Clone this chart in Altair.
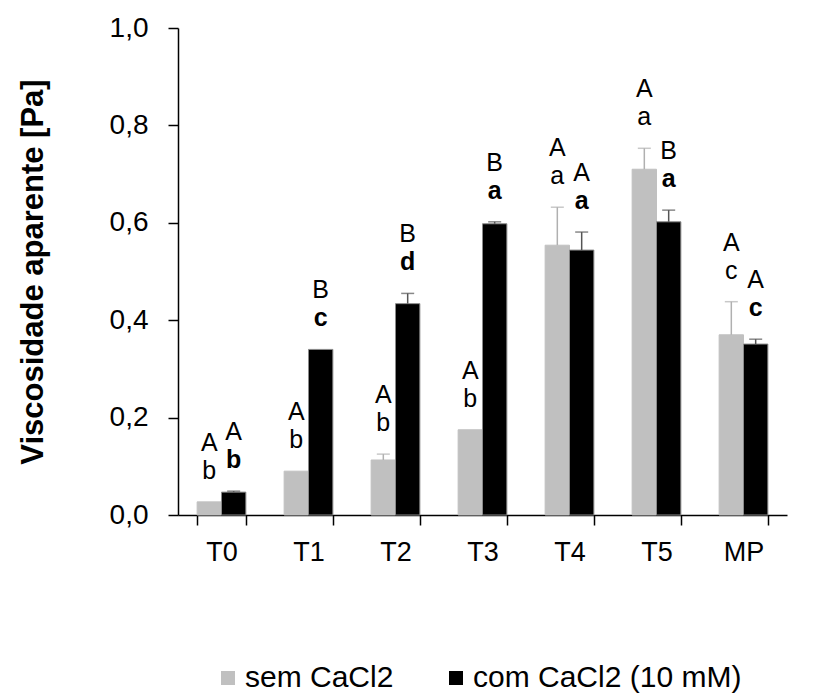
import altair as alt
import pandas as pd

categories = ["T0", "T1", "T2", "T3", "T4", "T5", "MP"]
series_names = ["sem CaCl2", "com CaCl2 (10 mM)"]

sem_values = [0.027, 0.090, 0.113, 0.175, 0.554, 0.710, 0.370]
sem_err = [0.0, 0.0, 0.012, 0.0, 0.078, 0.043, 0.068]
com_values = [0.047, 0.340, 0.434, 0.598, 0.544, 0.602, 0.351]
com_err = [0.002, 0.0, 0.021, 0.004, 0.037, 0.024, 0.010]

sem_upper = ["A", "A", "A", "A", "A", "A", "A"]
sem_lower = ["b", "b", "b", "b", "a", "a", "c"]
com_upper = ["A", "B", "B", "B", "A", "B", "A"]
com_lower = ["b", "c", "d", "a", "a", "a", "c"]

rows = []
for i, c in enumerate(categories):
    rows.append(dict(cat=c, serie=series_names[0], value=sem_values[i], err=sem_err[i],
                     upper=sem_upper[i], lower=sem_lower[i]))
    rows.append(dict(cat=c, serie=series_names[1], value=com_values[i], err=com_err[i],
                     upper=com_upper[i], lower=com_lower[i]))
df = pd.DataFrame(rows)
df["top"] = df["value"] + df["err"]

FONT = "Liberation Sans"

x_enc = alt.X(
    "cat:N", sort=categories,
    scale=alt.Scale(paddingInner=0.44, paddingOuter=0.22),
    axis=alt.Axis(title=None, labelAngle=0, labelFontSize=27, labelFont=FONT,
                  labelColor="black", tickBand="extent", tickSize=10,
                  tickColor="black", domainColor="black", labelPadding=14,
                  tickWidth=1.5, domainWidth=1.5),
)
xo_enc = alt.XOffset("serie:N", sort=series_names,
                     scale=alt.Scale(domain=series_names, paddingInner=0, paddingOuter=0))

y_axis = alt.Axis(
    title="Viscosidade aparente [Pa]",
    values=[0, 0.2, 0.4, 0.6, 0.8, 1.0],
    labelExpr="replace(format(datum.value, '.1f'), '.', ',')",
    tickSize=10, labelFontSize=28, labelFont=FONT, labelColor="black",
    labelPadding=20, titleFontSize=31, titleFont=FONT, titleFontWeight="bold",
    titleColor="black", titlePadding=60, grid=False, domainColor="black",
    tickColor="black", tickWidth=1.5, domainWidth=1.5,
)
y_scale = alt.Scale(domain=[0, 1], nice=False)

base = alt.Chart(df)

bars = base.mark_bar(strokeWidth=1).encode(
    x=x_enc, xOffset=xo_enc,
    y=alt.Y("value:Q", scale=y_scale, axis=y_axis),
    color=alt.Color("serie:N", sort=series_names,
                    scale=alt.Scale(domain=series_names, range=["#c0c0c0", "#000000"]),
                    legend=alt.Legend(title=None, orient="none", legendX=35, legendY=635,
                                      direction="horizontal", columns=2, columnPadding=47,
                                      labelFontSize=30, labelFont=FONT, labelColor="black",
                                      labelLimit=0,
                                      symbolType="square", symbolSize=196,
                                      symbolStrokeWidth=0, labelOffset=2, padding=0)),
    stroke=alt.condition(alt.datum.serie == series_names[1], alt.value("#8a8a8a"), alt.value("#c0c0c0")),
)

err_df = base.transform_filter("datum.err > 0")

err_rule = err_df.mark_rule(strokeWidth=1.5).encode(
    x=x_enc, xOffset=xo_enc,
    y=alt.Y("value:Q", scale=y_scale, axis=y_axis),
    y2="top:Q",
    color=alt.condition(alt.datum.serie == series_names[1], alt.value("#555555"), alt.value("#b0b0b0")),
)

err_cap = err_df.mark_tick(size=13, thickness=1.5).encode(
    x=x_enc, xOffset=xo_enc,
    y=alt.Y("top:Q", scale=y_scale, axis=y_axis),
    color=alt.condition(alt.datum.serie == series_names[1], alt.value("#555555"), alt.value("#b0b0b0")),
)

upper_text = base.mark_text(font=FONT, fontSize=25, baseline="middle", dy=-59, color="black").encode(
    x=x_enc, xOffset=xo_enc,
    y=alt.Y("top:Q", scale=y_scale, axis=y_axis),
    text="upper:N",
)

lower_sem_text = base.transform_filter(alt.datum.serie == series_names[0]).mark_text(
    font=FONT, fontSize=25, baseline="middle", dy=-31, color="black").encode(
    x=x_enc, xOffset=xo_enc,
    y=alt.Y("top:Q", scale=y_scale, axis=y_axis),
    text="lower:N",
)

lower_com_text = base.transform_filter(alt.datum.serie == series_names[1]).mark_text(
    font=FONT, fontSize=25, fontWeight="bold", baseline="middle", dy=-31, color="black").encode(
    x=x_enc, xOffset=xo_enc,
    y=alt.Y("top:Q", scale=y_scale, axis=y_axis),
    text="lower:N",
)

chart = alt.layer(bars, err_rule, err_cap, upper_text, lower_sem_text, lower_com_text).properties(
    width=609, height=487,
    padding={"left": 17, "top": 14, "right": 5, "bottom": 5},
    background="white",
).configure_view(stroke=None)

chart.save("out.html", embed_options={"renderer": "svg", "actions": False})
